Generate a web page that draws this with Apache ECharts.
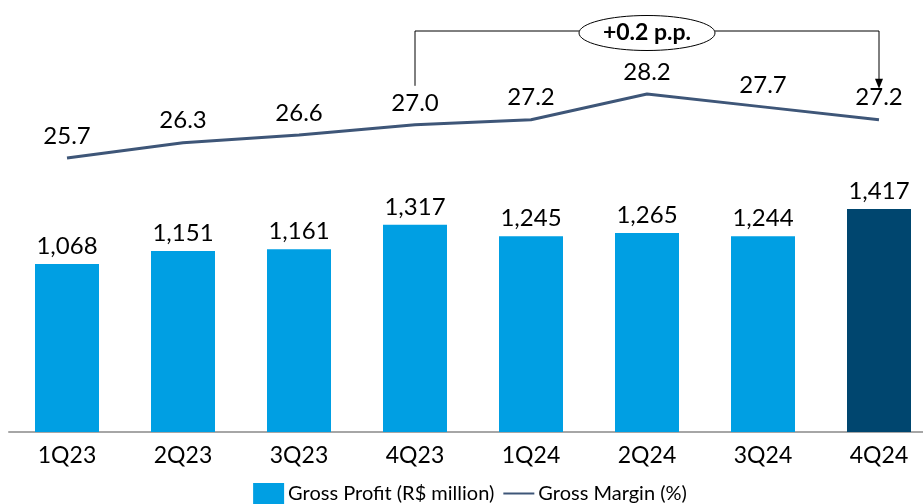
<!DOCTYPE html>
<html><head><meta charset="utf-8">
<script src="https://cdn.jsdelivr.net/npm/echarts@6/dist/echarts.min.js"></script>
<style>html,body{margin:0;padding:0;background:#fff;overflow:hidden}#c{width:940px;height:504px}</style>
</head><body><div id="c"></div>
<script>
const categories = ['1Q23','2Q23','3Q23','4Q23','1Q24','2Q24','3Q24','4Q24'];
const grossProfit = [1068, 1151, 1161, 1317, 1245, 1265, 1244, 1417];
const grossMargin = [25.7, 26.3, 26.6, 27.0, 27.2, 28.2, 27.7, 27.2];
const highlightIndex = 7;
const annotationText = '+0.2 p.p.';
const annotationFrom = 3, annotationTo = 7;

const FONT = 'Lato, "Open Sans", sans-serif';
const barColor = '#009FE3', barHighlight = '#00466F', lineColor = '#3E5678';

const chart = echarts.init(document.getElementById('c'));
chart.setOption({
  animation: false,
  textStyle: { fontFamily: FONT },
  grid: { left: 9, right: 3, top: 0, height: 432 },
  xAxis: {
    type: 'category', data: categories,
    axisTick: { show: false },
    axisLine: { lineStyle: { color: '#A6A6A6', width: 2 } },
    axisLabel: { color: '#000', fontSize: 23, fontFamily: FONT, margin: 12 }
  },
  yAxis: [
    { type: 'value', min: 0, max: 2746, show: false, splitLine: { show: false } },
    { type: 'value', min: 15, max: 31.875, show: false, splitLine: { show: false } }
  ],
  legend: {
    bottom: -5, left: 'center', itemGap: 8, itemWidth: 31, itemHeight: 21,
    textStyle: { color: '#000', fontSize: 20, fontFamily: FONT, padding: [0, 0, 0, -1] },
    data: [
      { name: 'Gross Profit (R$ million)', icon: 'rect' },
      { name: 'Gross Margin (%)', itemStyle: { opacity: 0 } }
    ]
  },
  series: [
    {
      name: 'Gross Profit (R$ million)', type: 'bar', barWidth: 64,
      itemStyle: { color: barColor },
      data: grossProfit.map((v, i) => i === highlightIndex ? { value: v, itemStyle: { color: barHighlight } } : v),
      label: {
        show: true, position: 'top', distance: 6, color: '#000', fontSize: 24, fontFamily: FONT,
        formatter: p => p.value.toLocaleString('en-US')
      }
    },
    {
      name: 'Gross Margin (%)', type: 'line', yAxisIndex: 1, data: grossMargin,
      symbol: 'circle', symbolSize: 0.01, showSymbol: true,
      lineStyle: { color: lineColor, width: 3 }, itemStyle: { color: lineColor },
      label: {
        show: true, position: 'top', distance: 10, color: '#000', fontSize: 24, fontFamily: FONT,
        formatter: p => p.value.toFixed(1)
      }
    }
  ]
});

function drawAnnotation() {
  const xa = chart.convertToPixel({ xAxisIndex: 0 }, categories[annotationFrom]);
  const xb = chart.convertToPixel({ xAxisIndex: 0 }, categories[annotationTo]);
  const ya = chart.convertToPixel({ yAxisIndex: 1 }, grossMargin[annotationFrom]);
  const yb = chart.convertToPixel({ yAxisIndex: 1 }, grossMargin[annotationTo]);
  const topY = 31;
  const cx = (xa + xb) / 2;
  const rx = 68, ry = 17.5;
  const stroke = { stroke: '#000', lineWidth: 1, fill: null };
  const tipY = yb - 31;
  chart.setOption({
    graphic: [
      { type: 'polyline', shape: { points: [[xa, ya - 39], [xa, topY], [cx - rx, topY]] }, style: stroke, silent: true },
      { type: 'polyline', shape: { points: [[cx + rx, topY], [xb, topY], [xb, tipY - 9]] }, style: stroke, silent: true },
      { type: 'polygon', shape: { points: [[xb - 4, tipY - 10], [xb + 4, tipY - 10], [xb, tipY]] }, style: { fill: '#000' }, silent: true },
      { type: 'ellipse', shape: { cx: cx, cy: topY + 2, rx: rx, ry: ry }, style: { fill: '#fff', stroke: '#000', lineWidth: 1 }, silent: true },
      { type: 'text', x: cx, y: topY + 2, style: { text: annotationText, fontSize: 23, fontWeight: 'bold', fontFamily: FONT, fill: '#000', align: 'center', verticalAlign: 'middle' }, silent: true }
    ]
  });
}
drawAnnotation();
</script>
</body></html>
